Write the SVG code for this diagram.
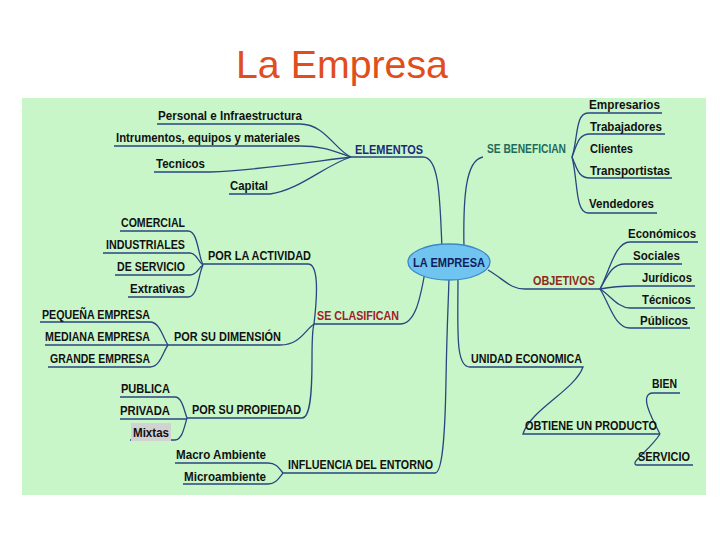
<svg xmlns="http://www.w3.org/2000/svg" width="720" height="540" viewBox="0 0 720 540">
<style>
.t{font-family:"Liberation Sans",Arial,sans-serif;font-weight:bold;font-size:12.5px;fill:#111;}
.c path{fill:none;stroke:#2a4680;stroke-width:1.3;}
.title{font-family:"Liberation Sans",Arial,sans-serif;font-size:39px;fill:#e04e1c;}
</style>
<rect width="720" height="540" fill="#ffffff"/>
<text class="title" x="236" y="78" textLength="212" lengthAdjust="spacingAndGlyphs">La Empresa</text>
<rect x="22" y="98" width="684" height="397" fill="#c9f6c9"/>
<g class="c" id="connectors">
<path d="M157,124 H300 C325,124 335,150 351,157"/>
<path d="M114,146 H300 C325,146 335,152 351,157"/>
<path d="M154,172 H210 C260,170 310,162 351,157"/>
<path d="M229,194 H270 C300,190 325,165 351,157"/>
<path d="M351,157 H423 C438,157 440,190 442,250"/>
<path d="M464,250 C463,200 465,160 483,157"/>
<path d="M572,157 C578,140 575,113 588,113 H662"/>
<path d="M572,157 C577,145 578,134 590,134 H665"/>
<path d="M572,157 C577,168 578,178 590,178 H672"/>
<path d="M572,157 C578,180 575,213 588,213 H657"/>
<path d="M488,270 C505,280 510,289 525,289 H600"/>
<path d="M600,289 C610,270 615,242 630,242 H698"/>
<path d="M600,289 C608,275 612,264 625,264 H682"/>
<path d="M600,289 C610,287 620,286 635,286 H695"/>
<path d="M600,289 C610,295 618,308 630,308 H695"/>
<path d="M600,289 C610,305 615,328 630,328 H690"/>
<path d="M314,324 H400 C415,324 420,300 425,272"/>
<path d="M203,264 H308 C318,264 318,290 314,324"/>
<path d="M120,231 H188 C198,231 198,255 203,265"/>
<path d="M103,253 H190 C197,253 198,262 203,265"/>
<path d="M115,275 H190 C197,275 198,268 203,265"/>
<path d="M128,297 H188 C198,297 198,275 203,265"/>
<path d="M168,345 H280 C300,345 305,330 314,324"/>
<path d="M40,322 H150 C160,322 163,338 168,345"/>
<path d="M45,345 H168"/>
<path d="M48,367 H150 C160,367 163,352 168,345"/>
<path d="M187,418 H302 C310,418 312,395 312,360 C312,340 312,330 314,324"/>
<path d="M120,397 H175 C182,397 184,410 187,418"/>
<path d="M120,419 H187"/>
<path d="M130,440 H175 C182,440 184,428 187,418"/>
<path d="M283,473 H435 C442,473 445,440 446,380 C447,320 449,290 449,275"/>
<path d="M175,463 H268 C276,463 279,468 283,473"/>
<path d="M183,484 H268 C276,484 279,478 283,473"/>
<path d="M458,275 C458,330 455,367 470,367 H583 C575,390 530,410 523,434 H660"/>
<path d="M660,434 C650,415 640,395 652,393 H680"/>
<path d="M660,434 C650,450 630,462 636,465 H693"/>
</g>
<g id="n-empresa">
<ellipse cx="449" cy="262" rx="41" ry="18" fill="#70c4f0" stroke="#3d88c4" stroke-width="1.3"/>
<text class="t" x="413" y="267" textLength="72" lengthAdjust="spacingAndGlyphs" style="fill:#10205a">LA EMPRESA</text>
</g>
<g id="n-elementos"><text class="t" x="355" y="154" textLength="68" lengthAdjust="spacingAndGlyphs" style="fill:#1b2a7a">ELEMENTOS</text></g>
<g id="n-personal"><text class="t" x="158" y="120" textLength="144" lengthAdjust="spacingAndGlyphs">Personal e Infraestructura</text></g>
<g id="n-instrumentos"><text class="t" x="116" y="142" textLength="184" lengthAdjust="spacingAndGlyphs">Intrumentos, equipos y materiales</text></g>
<g id="n-tecnicos1"><text class="t" x="156" y="168" textLength="49" lengthAdjust="spacingAndGlyphs">Tecnicos</text></g>
<g id="n-capital"><text class="t" x="230" y="190" textLength="38" lengthAdjust="spacingAndGlyphs">Capital</text></g>
<g id="n-sebenefician"><text class="t" x="487" y="153" textLength="79" lengthAdjust="spacingAndGlyphs" style="fill:#1e6b5a">SE BENEFICIAN</text></g>
<g id="n-empresarios"><text class="t" x="589" y="109" textLength="71" lengthAdjust="spacingAndGlyphs">Empresarios</text></g>
<g id="n-trabajadores"><text class="t" x="590" y="131" textLength="72" lengthAdjust="spacingAndGlyphs">Trabajadores</text></g>
<g id="n-clientes"><text class="t" x="590" y="153" textLength="43" lengthAdjust="spacingAndGlyphs">Clientes</text></g>
<g id="n-transportistas"><text class="t" x="590" y="175" textLength="80" lengthAdjust="spacingAndGlyphs">Transportistas</text></g>
<g id="n-vendedores"><text class="t" x="589" y="208" textLength="65" lengthAdjust="spacingAndGlyphs">Vendedores</text></g>
<g id="n-objetivos"><text class="t" x="533" y="285" textLength="62" lengthAdjust="spacingAndGlyphs" style="fill:#8b2a1a">OBJETIVOS</text></g>
<g id="n-economicos"><text class="t" x="628" y="238" textLength="68" lengthAdjust="spacingAndGlyphs">Económicos</text></g>
<g id="n-sociales"><text class="t" x="633" y="260" textLength="47" lengthAdjust="spacingAndGlyphs">Sociales</text></g>
<g id="n-juridicos"><text class="t" x="642" y="282" textLength="50" lengthAdjust="spacingAndGlyphs">Jurídicos</text></g>
<g id="n-tecnicos2"><text class="t" x="642" y="304" textLength="49" lengthAdjust="spacingAndGlyphs">Técnicos</text></g>
<g id="n-publicos"><text class="t" x="640" y="325" textLength="48" lengthAdjust="spacingAndGlyphs">Públicos</text></g>
<g id="n-seclasifican"><text class="t" x="317" y="320" textLength="82" lengthAdjust="spacingAndGlyphs" style="fill:#a0202a">SE CLASIFICAN</text></g>
<g id="n-actividad"><text class="t" x="208" y="260" textLength="103" lengthAdjust="spacingAndGlyphs">POR LA ACTIVIDAD</text></g>
<g id="n-comercial"><text class="t" x="121" y="227" textLength="64" lengthAdjust="spacingAndGlyphs">COMERCIAL</text></g>
<g id="n-industriales"><text class="t" x="106" y="249" textLength="79" lengthAdjust="spacingAndGlyphs">INDUSTRIALES</text></g>
<g id="n-deservicio"><text class="t" x="117" y="271" textLength="68" lengthAdjust="spacingAndGlyphs">DE SERVICIO</text></g>
<g id="n-extrativas"><text class="t" x="130" y="293" textLength="55" lengthAdjust="spacingAndGlyphs">Extrativas</text></g>
<g id="n-dimension"><text class="t" x="174" y="341" textLength="107" lengthAdjust="spacingAndGlyphs">POR SU DIMENSIÓN</text></g>
<g id="n-pequena"><text class="t" x="42" y="319" textLength="108" lengthAdjust="spacingAndGlyphs">PEQUEÑA EMPRESA</text></g>
<g id="n-mediana"><text class="t" x="45" y="341" textLength="105" lengthAdjust="spacingAndGlyphs">MEDIANA EMPRESA</text></g>
<g id="n-grande"><text class="t" x="50" y="363" textLength="100" lengthAdjust="spacingAndGlyphs">GRANDE EMPRESA</text></g>
<g id="n-propiedad"><text class="t" x="192" y="414" textLength="109" lengthAdjust="spacingAndGlyphs">POR SU PROPIEDAD</text></g>
<g id="n-publica"><text class="t" x="121" y="393" textLength="49" lengthAdjust="spacingAndGlyphs">PUBLICA</text></g>
<g id="n-privada"><text class="t" x="120" y="415" textLength="50" lengthAdjust="spacingAndGlyphs">PRIVADA</text></g>
<g id="n-mixtas"><rect x="131" y="423" width="40" height="18" fill="#d2d2d2"/><text class="t" x="133" y="437" textLength="36" lengthAdjust="spacingAndGlyphs">Mixtas</text></g>
<g id="n-entorno"><text class="t" x="288" y="469" textLength="145" lengthAdjust="spacingAndGlyphs">INFLUENCIA DEL ENTORNO</text></g>
<g id="n-macro"><text class="t" x="176" y="459" textLength="90" lengthAdjust="spacingAndGlyphs">Macro Ambiente</text></g>
<g id="n-micro"><text class="t" x="184" y="481" textLength="82" lengthAdjust="spacingAndGlyphs">Microambiente</text></g>
<g id="n-unidad"><text class="t" x="471" y="363" textLength="111" lengthAdjust="spacingAndGlyphs">UNIDAD ECONOMICA</text></g>
<g id="n-obtiene"><text class="t" x="525" y="430" textLength="132" lengthAdjust="spacingAndGlyphs">OBTIENE UN PRODUCTO</text></g>
<g id="n-bien"><text class="t" x="652" y="388" textLength="25" lengthAdjust="spacingAndGlyphs">BIEN</text></g>
<g id="n-servicio"><text class="t" x="638" y="461" textLength="52" lengthAdjust="spacingAndGlyphs">SERVICIO</text></g>
</svg>
